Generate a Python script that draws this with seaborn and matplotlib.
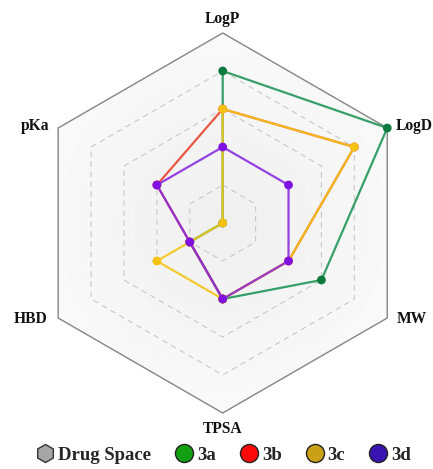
import numpy as np
import pandas as pd
import matplotlib
matplotlib.use("Agg")
import matplotlib.pyplot as plt
from matplotlib.patches import Polygon
from matplotlib.lines import Line2D
import seaborn as sns

# Descriptor axes, clockwise from the top
axes_labels = ["LogP", "LogD", "MW", "TPSA", "HBD", "pKa"]

# Scores on a 0-5 scale for each compound
series_3a = [4, 5, 3, 2, 1, 0]
series_3b = [3, 4, 2, 2, 1, 2]
series_3c = [3, 4, 2, 2, 2, 0]
series_3d = [2, 2, 2, 2, 1, 2]

compounds = ["3a", "3b", "3c", "3d"]
values = [series_3a, series_3b, series_3c, series_3d]
max_score = 5
ring_levels = [1, 2, 3, 4]

line_colors = {"3a": "#1b9455", "3b": "#e8402a", "3c": "#f5c518", "3d": "#8a2be2"}
dot_colors = {"3a": "#0f7a3d", "3b": "#e8251a", "3c": "#f5c214", "3d": "#7f12e0"}
legend_colors = {"3a": "#12a012", "3b": "#ff0a0a", "3c": "#c9a016", "3d": "#3a14b0"}

sns.set_theme(style="white")
plt.rcParams["font.family"] = ["Liberation Serif", "DejaVu Serif"]

W, H = 433, 469
fig = plt.figure(figsize=(W / 100, H / 100), dpi=100)
ax = fig.add_axes([0, 0, 1, 1])
cx, cy, R = 222.7, 223.0, 190.0
ax.set_xlim(-cx / R, (W - cx) / R)
ax.set_ylim(-(H - cy) / R, cy / R)
ax.set_aspect("equal")
ax.axis("off")

angles = np.deg2rad(90 - 60 * np.arange(len(axes_labels)))


def hexagon(r):
    return np.column_stack([r * np.cos(angles), r * np.sin(angles)])


# Drug space: outer hexagon with a soft radial shading
outer = Polygon(hexagon(1.0), closed=True, facecolor="none",
                edgecolor="#858585", lw=1.0, zorder=3)
ax.add_patch(outer)
gx, gy = np.meshgrid(np.linspace(-1, 1, 300), np.linspace(-1, 1, 300))
dist = np.sqrt(gx ** 2 + gy ** 2)
shade = 0.938 + 0.04 * np.clip(dist, 0, 1)
img = ax.imshow(shade, extent=[-1, 1, -1, 1], origin="lower", cmap="gray",
                vmin=0, vmax=1, zorder=1, interpolation="bilinear")
clip = Polygon(hexagon(1.0), closed=True, transform=ax.transData)
img.set_clip_path(clip)

# Dashed inner rings
for lvl in ring_levels:
    pts = hexagon(lvl / max_score)
    pts = np.vstack([pts, pts[:1]])
    ax.plot(pts[:, 0], pts[:, 1], ls=(0, (5, 4)), color="#c8c8c8",
            lw=0.8, zorder=2)

# Compound profiles
rows = []
for name, vals in zip(compounds, values):
    for i, v in enumerate(list(vals) + [vals[0]]):
        k = i % len(vals)
        r = v / max_score
        rows.append({"compound": name, "order": i,
                     "x": r * np.cos(angles[k]), "y": r * np.sin(angles[k])})
df = pd.DataFrame(rows)

for z, name in enumerate(compounds):
    sub = df[df["compound"] == name]
    sns.lineplot(data=sub, x="x", y="y", sort=False, estimator=None,
                 color=line_colors[name], lw=1.6, alpha=0.88, ax=ax,
                 zorder=5 + 2 * z)
for z, name in enumerate(compounds):
    sub = df[(df["compound"] == name) & (df["order"] < len(axes_labels))]
    sns.scatterplot(data=sub, x="x", y="y", color=dot_colors[name], s=40,
                    edgecolor="none", ax=ax, zorder=6 + 2 * z)

# Axis labels
label_pos = {
    "LogP": (0.0, 1.074, "center"),
    "LogD": (0.91, 0.51, "left"),
    "MW": (0.918, -0.505, "left"),
    "TPSA": (0.0, -1.084, "center"),
    "HBD": (-0.925, -0.505, "right"),
    "pKa": (-0.914, 0.51, "right"),
}
for lab in axes_labels:
    x, y, ha = label_pos[lab]
    ax.text(x, y, lab, ha=ha, va="center", fontsize=11.2, fontweight="bold",
            color="#111111")

# Legend
handles = [Line2D([], [], ls="none", marker="h", markersize=13,
                  markerfacecolor="#a6a6a6", markeredgecolor="#333333",
                  markeredgewidth=1.0, label="Drug Space")]
for name in compounds:
    handles.append(Line2D([], [], ls="none", marker="o", markersize=13,
                          markerfacecolor=legend_colors[name],
                          markeredgecolor="#222222", markeredgewidth=1.0,
                          label=name))
fig.legend(handles=handles, loc="center",
           bbox_to_anchor=(0.5 + 7 / W, 1 - 455 / H),
           ncol=5, frameon=False, handlelength=1.0, handletextpad=0.2,
           columnspacing=1.25, prop={"size": 13.5, "weight": "bold"})

fig.savefig("out.png", dpi=100)
